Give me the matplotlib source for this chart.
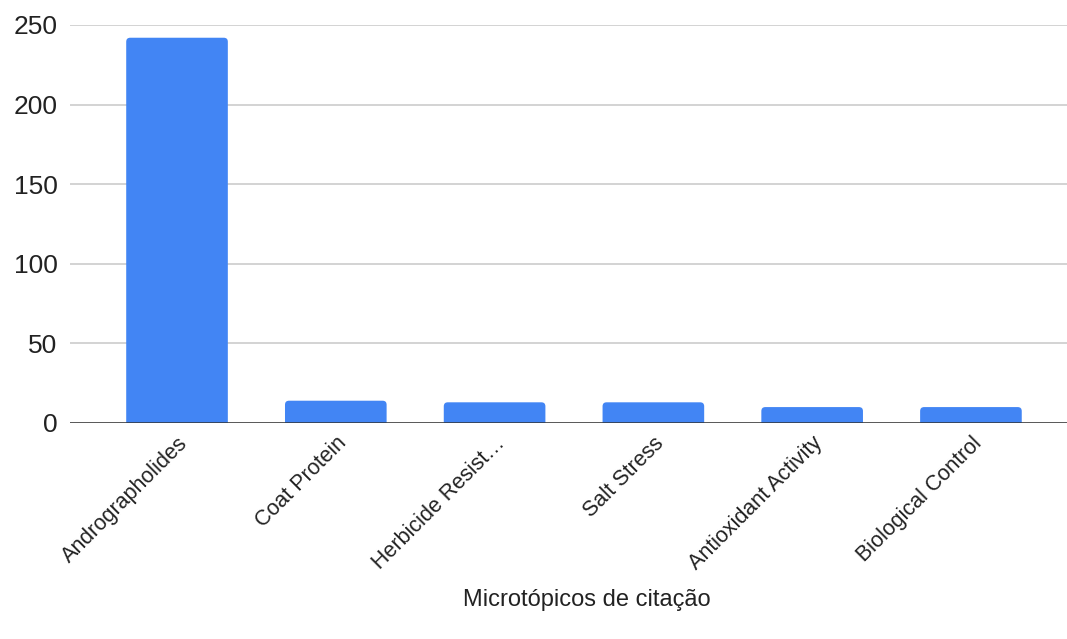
import numpy as np
import matplotlib.pyplot as plt
from matplotlib.patches import FancyBboxPatch

plt.rcParams['font.family'] = ['Liberation Sans', 'DejaVu Sans']

# citações por microtópico
topicos = ["Andrographolides", "Coat Protein", "Herbicide Resist…",
           "Salt Stress", "Antioxidant Activity", "Biological Control"]
citacoes = [242, 14, 13, 13, 10, 10]
y_ticks = [0, 50, 100, 150, 200, 250]

fig = plt.figure(figsize=(10.67, 6.39), dpi=100)
ax = fig.add_axes([70/1067, 1-423/639, 1-70/1067, (423-25)/639])

ax.set_xlim(-0.674, 5.605)
ax.set_ylim(0, 250)

x = np.arange(len(topicos))
barras = ax.bar(x, citacoes, width=0.64, color="#4285F4", zorder=3)

# cantos superiores arredondados: troca cada barra por uma caixa arredondada
# que desce abaixo do eixo (a parte de baixo fica cortada)
px_x = (5.605 + 0.674) / 997
px_y = 250 / 398
for b in barras:
    b.set_visible(False)
    caixa = FancyBboxPatch((b.get_x(), -10), b.get_width(), b.get_height() + 10,
                           boxstyle="round,pad=0,rounding_size=%f" % (4 * px_x),
                           mutation_aspect=px_y / px_x,
                           facecolor="#4285F4", edgecolor="none", zorder=3)
    ax.add_patch(caixa)

ax.set_yticks(y_ticks)
ax.yaxis.grid(True, color="#cccccc", linewidth=1.2, zorder=0)
ax.axhline(0, color="#333333", linewidth=1.8, zorder=4)

for s in ax.spines.values():
    s.set_visible(False)
ax.tick_params(axis='y', length=0, pad=9, labelsize=19, labelcolor="#222222")
ax.tick_params(axis='x', length=0, pad=7, labelsize=15.5, labelcolor="#222222")
ax.set_xticks(x)
ax.set_xticklabels(topicos, rotation=45, ha='right', rotation_mode='anchor')

fig.text(587/1067, 1-600/639, "Microtópicos de citação", ha='center', va='center',
         fontsize=17, color="#222222")

fig.savefig("out.png", dpi=100)
